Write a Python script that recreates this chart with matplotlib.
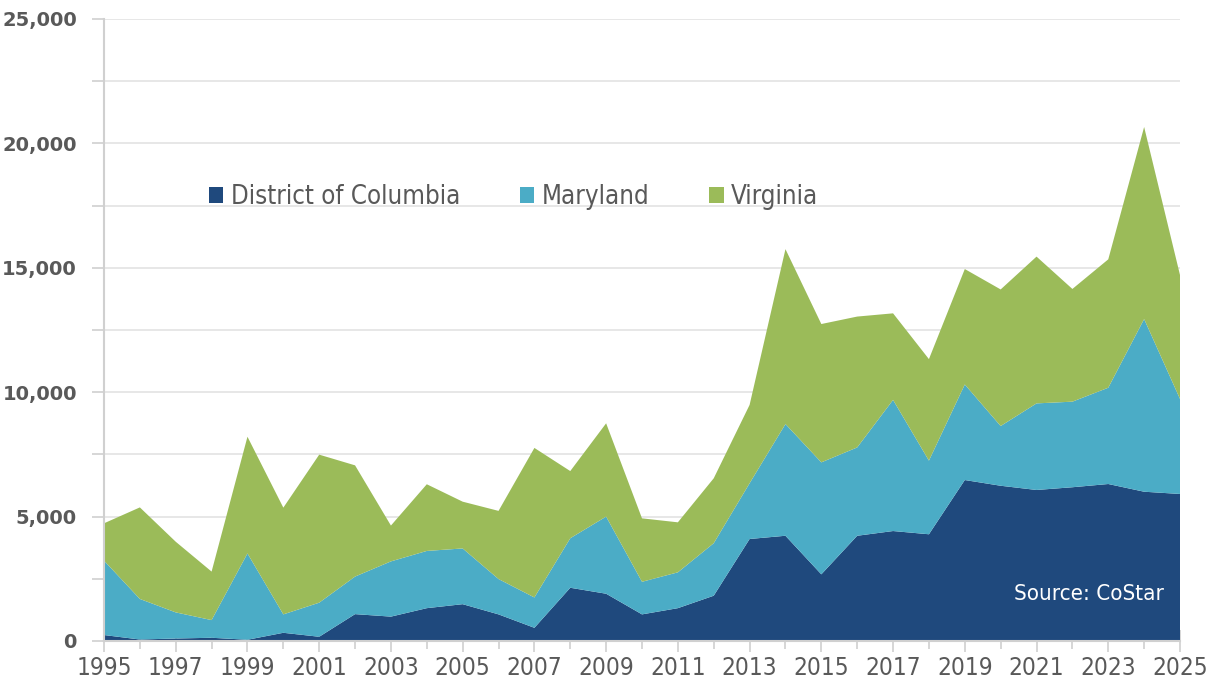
import numpy as np
import matplotlib.pyplot as plt
from matplotlib.ticker import MultipleLocator, FixedLocator, FuncFormatter

years = list(range(1995, 2026))

# (units)
dc = [240, 60, 100, 130, 50, 330, 170, 1080, 980, 1320, 1480, 1070, 530, 2140, 1900,
      1070, 1320, 1820, 4100, 4230, 2680, 4230, 4420, 4290, 6470, 6240, 6070, 6180,
      6310, 6000, 5910]
md_top = [3230, 1690, 1150, 840, 3520, 1070, 1540, 2590, 3200, 3620, 3720, 2490, 1750,
          4130, 5000, 2380, 2760, 3930, 6340, 8720, 7180, 7780, 9690, 7250, 10310,
          8640, 9550, 9620, 10180, 12940, 9730]
total = [4730, 5370, 3990, 2790, 8210, 5360, 7490, 7060, 4640, 6300, 5600, 5230, 7760,
         6830, 8750, 4930, 4770, 6540, 9490, 15750, 12740, 13040, 13170, 11330, 14950,
         14130, 15450, 14150, 15340, 20660, 14710]

md = [a - b for a, b in zip(md_top, dc)]
va = [a - b for a, b in zip(total, md_top)]

series_names = ['District of Columbia', 'Maryland', 'Virginia']
colors = ['#1F497D', '#4BACC6', '#9BBB59']

grey = '#595959'
narrow = ['Liberation Sans Narrow', 'DejaVu Sans']

fig = plt.figure(figsize=(12.14, 6.87), dpi=100)
ax = fig.add_axes([104 / 1214, 46 / 687, 1076 / 1214, 622 / 687])

ax.stackplot(years, dc, md, va, colors=colors, labels=series_names, zorder=3,
             linewidth=0)

ax.set_xlim(1995, 2025)
ax.set_ylim(0, 25000)

ax.yaxis.set_major_locator(MultipleLocator(5000))
ax.yaxis.set_minor_locator(MultipleLocator(2500))
ax.yaxis.set_major_formatter(FuncFormatter(lambda v, p: f'{int(v):,}'))
ax.xaxis.set_major_locator(FixedLocator(years[::2]))
ax.xaxis.set_minor_locator(FixedLocator(years))

ax.grid(axis='y', which='both', color='#E3E3E3', linewidth=1.2, zorder=0)
ax.set_axisbelow(True)

for s in ['top', 'right']:
    ax.spines[s].set_visible(False)
for s in ['left', 'bottom']:
    ax.spines[s].set_color('#D0D0D0')
    ax.spines[s].set_linewidth(1.5)
    ax.spines[s].set_zorder(4)

ax.tick_params(axis='y', which='both', length=9, width=1.2, color='#D0D0D0',
               labelsize=14, labelcolor=grey, pad=10.5)
ax.tick_params(axis='x', which='major', direction='inout', length=16, width=1.2,
               color='#D0D0D0', labelsize=17.5, labelcolor=grey, pad=3)
ax.tick_params(axis='x', which='minor', direction='inout', length=11, width=1.2,
               color='#D0D0D0')
for lab in ax.get_yticklabels():
    lab.set_fontweight('bold')
    lab.set_family(['DejaVu Sans'])
for lab in ax.get_xticklabels():
    lab.set_family(narrow)
    lab.set_fontstretch('condensed')

leg = ax.legend(loc='upper left', bbox_to_anchor=(0.076, 0.772), ncol=3, frameon=False,
                handlelength=0.55, handleheight=0.55, handletextpad=0.3,
                columnspacing=2.33,
                prop={'family': narrow, 'size': 18.5, 'stretch': 'condensed'})
for t in leg.get_texts():
    t.set_color(grey)

ax.text(0.985, 0.075, 'Source: CoStar', transform=ax.transAxes, color='white',
        fontsize=16, family=narrow, fontstretch='condensed',
        ha='right', va='center', zorder=5)

fig.savefig('out.png', dpi=100)
